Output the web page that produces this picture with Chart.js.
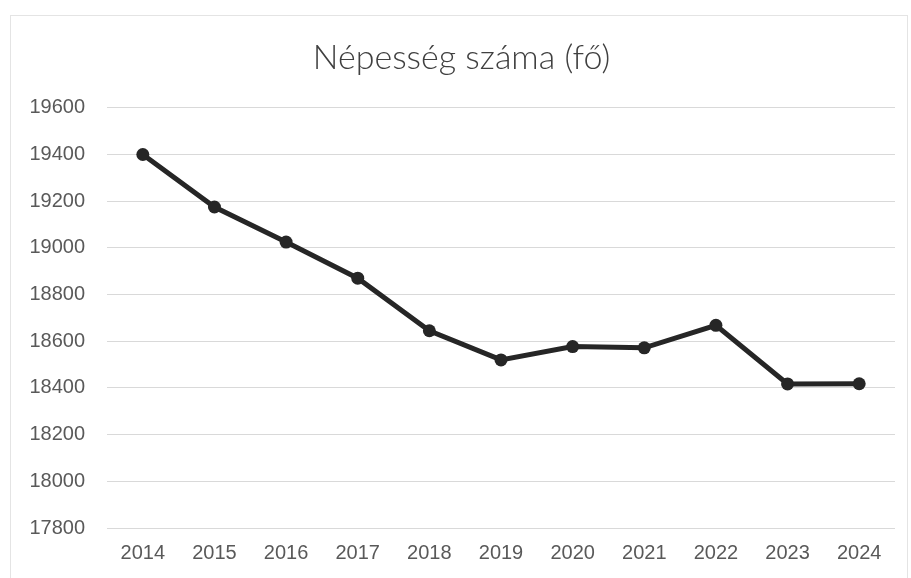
<!DOCTYPE html>
<html>
<head>
<meta charset="utf-8">
<script src="https://cdn.jsdelivr.net/npm/chart.js@4.4.1/dist/chart.umd.min.js"></script>
<style>
  html, body { margin: 0; padding: 0; background: #fff; }
  #wrap { position: relative; width: 911px; height: 578px; }
  #frame { position: absolute; left: 10px; top: 15px; width: 896px; height: 600px; border: 1px solid #e4e4e4; }
  canvas { position: absolute; left: 0; top: 0; }
</style>
</head>
<body>
<div id="wrap">
  <div id="frame"></div>
  <canvas id="population-canvas" width="911" height="578"></canvas>
</div>
<script>
var years = ['2014', '2015', '2016', '2017', '2018', '2019', '2020', '2021', '2022', '2023', '2024'];
var population = [19400, 19175, 19025, 18870, 18645, 18520, 18577, 18572, 18668, 18417, 18418];
var yMin = 17800;
var yMax = 19600;
var yStep = 200;
var chartTitle = 'Népesség száma (fő)';

var lineColor = '#262626';
var textColor = '#595959';

var ctx = document.getElementById('population-canvas').getContext('2d');
window.myLine = new Chart(ctx, {
    type: 'line',
    data: {
        labels: years,
        datasets: [{
            label: chartTitle,
            data: population,
            borderColor: lineColor,
            backgroundColor: lineColor,
            borderWidth: 5,
            pointRadius: 6.5,
            pointBorderWidth: 0,
            pointBackgroundColor: lineColor,
            tension: 0,
            fill: false
        }]
    },
    options: {
        responsive: false,
        animation: false,
        layout: {
            padding: { left: 28, right: 16, top: 0, bottom: 0 }
        },
        plugins: {
            legend: { display: false },
            tooltip: { enabled: false },
            title: {
                display: true,
                text: chartTitle,
                color: '#404040',
                font: { family: 'Lato', size: 34, weight: '300' },
                padding: { top: 38, bottom: 29 }
            }
        },
        scales: {
            x: {
                offset: true,
                grid: { display: false, drawTicks: false },
                border: { display: false },
                ticks: {
                    color: textColor,
                    padding: 13,
                    maxRotation: 0,
                    font: { family: 'Liberation Sans', size: 20 }
                }
            },
            y: {
                min: yMin,
                max: yMax,
                grid: { color: '#d9d9d9', lineWidth: 1, drawTicks: false },
                border: { display: false },
                afterFit: function(scale) { scale.width = 79; },
                ticks: {
                    stepSize: yStep,
                    color: textColor,
                    padding: 22,
                    font: { family: 'Liberation Sans', size: 20 },
                    callback: function(value) { return String(value); }
                }
            }
        }
    }
});
</script>
</body>
</html>
